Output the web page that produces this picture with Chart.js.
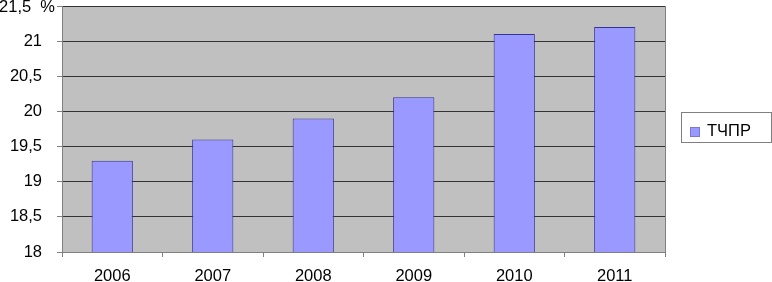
<!DOCTYPE html>
<html>
<head>
<meta charset="utf-8">
<script src="https://cdn.jsdelivr.net/npm/chart.js@4/dist/chart.umd.min.js"></script>
<style>
html,body{margin:0;padding:0;background:#fff;}
#wrap{width:772px;height:282px;position:relative;}
</style>
</head>
<body>
<div id="wrap"><canvas id="c" width="772" height="282"></canvas></div>
<script>
const categories = ['2006','2007','2008','2009','2010','2011'];
const seriesName = 'ТЧПР';
const values = [19.3, 19.6, 19.9, 20.2, 21.1, 21.2];
const yMin = 18, yMax = 21.5, yStep = 0.5;
const unitLabel = '%';

const FONT = 'Liberation Sans, Arial, sans-serif';
const FS = 16.5;
const fmt = v => String(Math.round(v*10)/10).replace('.', ',');

const bgPlugin = {
  id: 'bg',
  beforeDraw(chart) {
    const a = chart.chartArea, ctx = chart.ctx;
    ctx.save();
    ctx.fillStyle = '#C0C0C0';
    ctx.fillRect(a.left, a.top, a.right - a.left, a.bottom - a.top);
    ctx.restore();
  },
  afterDraw(chart) {
    const a = chart.chartArea, ctx = chart.ctx;
    const ys = chart.scales.y;
    ctx.save();
    ctx.strokeStyle = '#808080';
    ctx.lineWidth = 1;
    ctx.beginPath();
    ctx.moveTo(Math.round(a.right) + 0.5, a.top);
    ctx.lineTo(Math.round(a.right) + 0.5, a.bottom);
    ctx.stroke();
    ctx.fillStyle = '#000';
    ctx.font = FS + 'px ' + FONT;
    ctx.textAlign = 'right';
    ctx.textBaseline = 'middle';
    ctx.fillText(fmt(yMax) + '  ' + unitLabel, a.left - 7, ys.getPixelForValue(yMax) + 1);
    const lx = a.right + 16, ly = (a.top + a.bottom) / 2 - 17, lw = 90, lh = 30;
    ctx.strokeStyle = '#808080';
    ctx.strokeRect(lx + 0.5, ly + 0.5, lw, lh);
    const ds = chart.data.datasets[0];
    ctx.fillStyle = ds.backgroundColor;
    ctx.fillRect(lx + 9, ly + 15, 10, 10);
    ctx.strokeStyle = '#7777dd';
    ctx.strokeRect(lx + 9.5, ly + 15.5, 9, 9);
    ctx.fillStyle = '#000';
    ctx.textAlign = 'left';
    ctx.fillText(ds.label, lx + 26, ly + 19);
    ctx.restore();
  }
};

new Chart(document.getElementById('c'), {
  type: 'bar',
  data: {
    labels: categories,
    datasets: [{
      label: seriesName,
      data: values,
      backgroundColor: '#9999FF',
      borderColor: '#333399',
      borderWidth: 1,
      categoryPercentage: 1,
      barPercentage: 0.41
    }]
  },
  options: {
    responsive: false,
    animation: false,
    layout: { padding: { top: 6, right: 107, left: 0, bottom: 0 } },
    plugins: { legend: { display: false }, tooltip: { enabled: false } },
    scales: {
      x: {
        afterFit(s) { s.height = 30; s.paddingLeft = 0; s.paddingRight = 0; },
        grid: { offset: true, drawOnChartArea: false, drawTicks: true, tickLength: 5, tickColor: '#808080' },
        border: { color: '#808080' },
        ticks: { color: '#000', font: { family: FONT, size: FS }, padding: 10, maxRotation: 0 }
      },
      y: {
        min: yMin, max: yMax,
        afterFit(s) { s.width = 62; s.paddingTop = 0; s.paddingBottom = 0; },
        grid: { color: '#333', tickColor: '#808080', tickLength: 5 },
        border: { color: '#808080' },
        ticks: {
          stepSize: yStep,
          color: '#000',
          font: { family: FONT, size: FS },
          padding: 15,
          callback: v => (v === yMax ? '' : fmt(v))
        }
      }
    }
  },
  plugins: [bgPlugin]
});
</script>
</body>
</html>
